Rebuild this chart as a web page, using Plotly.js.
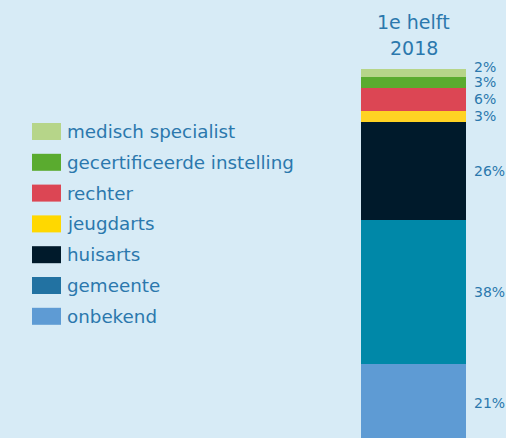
<!DOCTYPE html>
<html>
<head>
<meta charset="utf-8">
<script src="https://cdn.plot.ly/plotly-3.0.1.min.js"></script>
<style>
html,body{margin:0;padding:0;background:#d7ebf6;}
#chart{width:506px;height:438px;}
</style>
</head>
<body>
<div id="chart"></div>
<script>
// Data (legend order, top of stack first)
var categories = ["medisch specialist", "gecertificeerde instelling", "rechter", "jeugdarts", "huisarts", "gemeente", "onbekend"];
var values = [2, 3, 6, 3, 26, 38, 21];
var period = "1e helft<br>2018";
var barColors = ["#b6d589", "#5aab2f", "#dc4654", "#ffd323", "#001a2b", "#0088a8", "#5e9bd4"];
var legendColors = ["#b6d589", "#5aab2f", "#dc4654", "#ffd800", "#001a2b", "#2272a2", "#5e9bd4"];

var W = 506, H = 438;
var mL = 361, mR = 40, mT = 69, mB = 0;
var plotW = W - mL - mR, plotH = H - mT - mB;
var textColor = "#2b78ad";
var font = "DejaVu Sans, Verdana, sans-serif";

var total = values.reduce(function(a,b){return a+b;},0);
var yMin = 1.3, yMax = total;
var pxPerUnit = plotH / (yMax - yMin);

// traces bottom to top
var traces = [];
for (var i = categories.length - 1; i >= 0; i--) {
  traces.push({
    type: "bar",
    x: [0],
    y: [values[i]],
    width: [1],
    name: categories[i],
    marker: {color: barColors[i], line: {width: 0}},
    hoverinfo: "name+y",
    showlegend: false
  });
}

// value labels at segment centres, pushed apart where they collide
var centers = [];
var cum = 0;
for (var i = categories.length - 1; i >= 0; i--) {
  centers[i] = cum + values[i] / 2;
  cum += values[i];
}
var minGap = 15 / pxPerUnit;
var labelY = centers.slice();
for (var i = categories.length - 2; i >= 0; i--) {
  if (labelY[i] - labelY[i+1] < minGap) labelY[i] = labelY[i+1] + minGap;
}
function val2paper(v){ return (v - yMin) / (yMax - yMin); }

var annotations = [];
var shapes = [];
for (var i = 0; i < categories.length; i++) {
  annotations.push({
    xref: "paper", yref: "paper", x: 1, y: val2paper(labelY[i]),
    xanchor: "left", yanchor: "middle", xshift: 6,
    text: values[i] + "%", showarrow: false,
    font: {family: font, size: 14, color: textColor}
  });
}

// title above the bar
var titleLines = period.split("<br>");
var titleShift = [47, 21];
titleLines.forEach(function(t, k){
  annotations.push({
    xref: "x", yref: "paper", x: 0, y: 1,
    xanchor: "center", yanchor: "middle", yshift: titleShift[k],
    text: t, showarrow: false,
    font: {family: font, size: 19, color: textColor}
  });
});

// custom legend
function px2x(px){ return (px - mL) / plotW; }
function py2y(py){ return (H - mB - py) / plotH; }
var legTop = 131.5, legStep = 30.8;
for (var i = 0; i < categories.length; i++) {
  var cy = legTop + i * legStep;
  shapes.push({
    type: "rect", xref: "paper", yref: "paper",
    x0: px2x(32), x1: px2x(61), y0: py2y(cy + 8.5), y1: py2y(cy - 8.5),
    fillcolor: legendColors[i], line: {width: 0}
  });
  annotations.push({
    xref: "paper", yref: "paper", x: px2x(65), y: py2y(cy),
    xanchor: "left", yanchor: "middle",
    text: categories[i], showarrow: false,
    font: {family: font, size: 18.3, color: textColor}
  });
}

var layout = {
  width: W, height: H,
  margin: {l: mL, r: mR, t: mT, b: mB, pad: 0},
  paper_bgcolor: "#d7ebf6",
  plot_bgcolor: "rgba(0,0,0,0)",
  barmode: "stack",
  bargap: 0,
  showlegend: false,
  xaxis: {range: [-0.5, 0.5], visible: false, fixedrange: true},
  yaxis: {range: [yMin, yMax], visible: false, fixedrange: true},
  annotations: annotations,
  shapes: shapes
};

Plotly.newPlot("chart", traces, layout, {displayModeBar: false, staticPlot: true});
</script>
</body>
</html>
